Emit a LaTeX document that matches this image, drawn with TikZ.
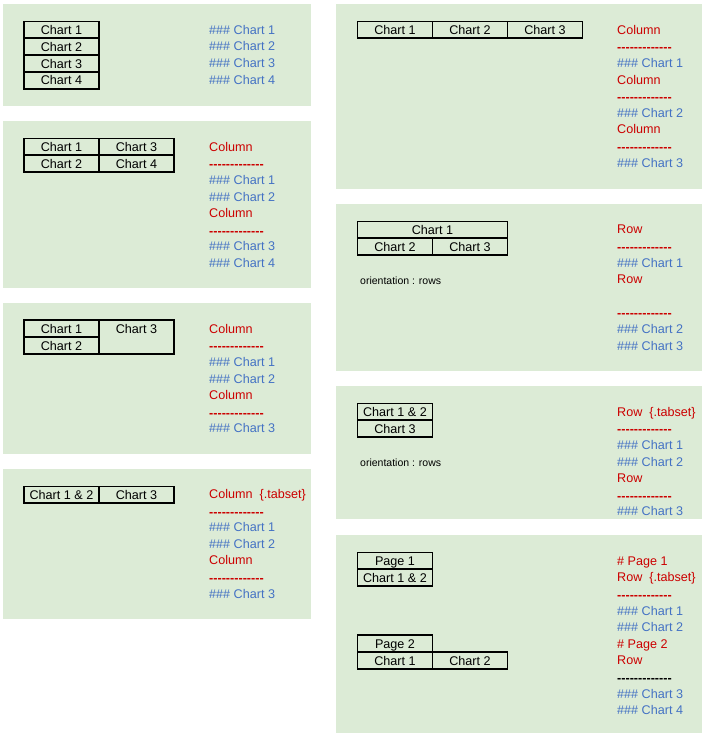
\documentclass[tikz,border=0pt]{standalone}
\usepackage{fontspec}
\setmainfont{Liberation Sans}
\usetikzlibrary{positioning}
\definecolor{panelgreen}{RGB}{220,235,214}
\definecolor{mdred}{RGB}{204,0,0}
\definecolor{mdblue}{RGB}{68,114,196}
\newcommand\sepline{\bfseries-\kern0pt-\kern0pt-\kern0pt-\kern0pt-\kern0pt-\kern0pt-\kern0pt-\kern0pt-\kern0pt-\kern0pt-\kern0pt-\kern0pt-}
\newcommand\srclines[4]{\foreach \sty/\txt [count=\i from 0] in {#4}
        \node[\sty] (#1\i) at (#2,#3+16.6*\i) {\txt};}
\tikzset{
    panel/.style={fill=panelgreen},
    cell/.style={draw, line width=1.9pt, outer sep=0pt, inner sep=0pt,
        minimum width=75pt, minimum height=16.8pt, text height=9pt, text depth=0pt},
    mdhead/.style={text=mdred, anchor=base west, inner sep=0pt},
    mdchart/.style={text=mdblue, anchor=base west, inner sep=0pt},
    mdrule/.style={text=mdred, anchor=base west, inner sep=0pt, yshift=-1pt},
    mdrulek/.style={mdrule, text=black},
    orient/.style={anchor=base west, inner sep=0pt, font=\fontsize{10.5}{12}\selectfont}
}
\begin{document}
\begin{tikzpicture}[x=1pt, y=-1pt, font=\fontsize{12.6}{15}\selectfont]
        \useasboundingbox (0,0) rectangle (706,739);
        \fill[white] (0,0) rectangle (706,739);

        \fill[panel] (3,4) rectangle (311,106);
        \fill[panel] (3,121) rectangle (311,288);
        \fill[panel] (3,303) rectangle (311,454);
        \fill[panel] (3,469) rectangle (311,619);
        \fill[panel] (336,4) rectangle (702,189);
        \fill[panel] (336,204) rectangle (702,371);
        \fill[panel] (336,386) rectangle (702,519);
        \fill[panel] (336,535) rectangle (702,733);

        \node[cell, anchor=north west] (p1a) at (24,21.5) {Chart 1};
        \node[cell, below=0pt of p1a] (p1b) {Chart 2};
        \node[cell, below=0pt of p1b] (p1c) {Chart 3};
        \node[cell, below=0pt of p1c] (p1d) {Chart 4};
        \srclines{p1t}{209}{34.2}{mdchart/\#\#\# Chart 1, mdchart/\#\#\# Chart 2,
            mdchart/\#\#\# Chart 3, mdchart/\#\#\# Chart 4}

        \node[cell, anchor=north west] (p2a) at (24,138.5) {Chart 1};
        \node[cell, below=0pt of p2a] (p2b) {Chart 2};
        \node[cell, right=0pt of p2a] (p2c) {Chart 3};
        \node[cell, right=0pt of p2b] (p2d) {Chart 4};
        \srclines{p2t}{209}{151.2}{mdhead/Column, mdrule/\sepline,
            mdchart/\#\#\# Chart 1, mdchart/\#\#\# Chart 2, mdhead/Column,
            mdrule/\sepline, mdchart/\#\#\# Chart 3, mdchart/\#\#\# Chart 4}

        \node[cell, anchor=north west] (p3a) at (24,320.3) {Chart 1};
        \node[cell, below=0pt of p3a] (p3b) {Chart 2};
        \node[cell, minimum height=33.6pt, anchor=north west] (p3c) at (p3a.north east) {};
        \node[inner sep=0pt, text height=9pt, text depth=0pt] (p3ct)
            at ([yshift=-8.4pt]p3c.north) {Chart 3};
        \srclines{p3t}{209}{333.2}{mdhead/Column, mdrule/\sepline,
            mdchart/\#\#\# Chart 1, mdchart/\#\#\# Chart 2, mdhead/Column,
            mdrule/\sepline, mdchart/\#\#\# Chart 3}

        \node[cell, anchor=north west] (p4a) at (24,486.5) {Chart 1 \& 2};
        \node[cell, right=0pt of p4a] (p4b) {Chart 3};
        \srclines{p4t}{209}{498.5}{mdhead/Column\ \ \{.tabset\}, mdrule/\sepline,
            mdchart/\#\#\# Chart 1, mdchart/\#\#\# Chart 2, mdhead/Column,
            mdrule/\sepline, mdchart/\#\#\# Chart 3}

        \node[cell, anchor=north west] (p5a) at (357.5,21.5) {Chart 1};
        \node[cell, right=0pt of p5a] (p5b) {Chart 2};
        \node[cell, right=0pt of p5b] (p5c) {Chart 3};
        \srclines{p5t}{617}{34.3}{mdhead/Column, mdrule/\sepline,
            mdchart/\#\#\# Chart 1, mdhead/Column, mdrule/\sepline,
            mdchart/\#\#\# Chart 2, mdhead/Column, mdrule/\sepline,
            mdchart/\#\#\# Chart 3}

        \node[cell, minimum width=150pt, anchor=north west] (p6a) at (357.5,221.5) {Chart 1};
        \node[cell, anchor=north west] (p6b) at (p6a.south west) {Chart 2};
        \node[cell, right=0pt of p6b] (p6c) {Chart 3};
        \node[orient] (p6o) at (360,284.5) {orientation : rows};
        \srclines{p6t}{617}{233.8}{mdhead/Row, mdrule/\sepline,
            mdchart/\#\#\# Chart 1, mdhead/Row}
        \srclines{p6u}{617}{316.8}{mdrule/\sepline,
            mdchart/\#\#\# Chart 2, mdchart/\#\#\# Chart 3}

        \node[cell, anchor=north west] (p7a) at (357.5,403.5) {Chart 1 \& 2};
        \node[cell, below=0pt of p7a] (p7b) {Chart 3};
        \node[orient] (p7o) at (360,466.2) {orientation : rows};
        \srclines{p7t}{617}{416.2}{mdhead/Row\ \ \{.tabset\}, mdrule/\sepline,
            mdchart/\#\#\# Chart 1, mdchart/\#\#\# Chart 2, mdhead/Row,
            mdrule/\sepline, mdchart/\#\#\# Chart 3}

        \node[cell, anchor=north west] (p8a) at (357.5,552.5) {Page 1};
        \node[cell, below=0pt of p8a] (p8b) {Chart 1 \& 2};
        \node[cell, anchor=north west] (p8c) at (357.5,635.3) {Page 2};
        \node[cell, below=0pt of p8c] (p8d) {Chart 1};
        \node[cell, right=0pt of p8d] (p8e) {Chart 2};
        \srclines{p8t}{617}{565.2}{mdhead/\# Page 1, mdhead/Row\ \ \{.tabset\},
            mdrule/\sepline, mdchart/\#\#\# Chart 1, mdchart/\#\#\# Chart 2,
            mdhead/\# Page 2, mdhead/Row, mdrulek/\sepline,
            mdchart/\#\#\# Chart 3, mdchart/\#\#\# Chart 4}

    \end{tikzpicture}
\end{document}
